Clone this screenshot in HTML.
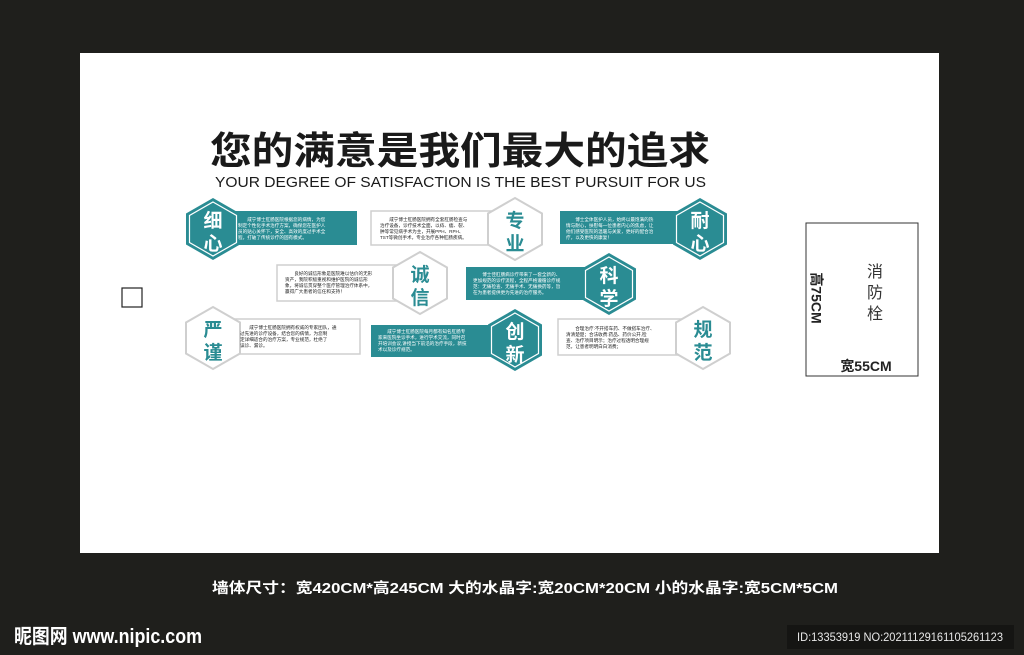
<!DOCTYPE html>
<html><head><meta charset="utf-8"><style>
html,body{margin:0;padding:0;background:#1f1f1c;}
svg{display:block}
text{font-family:"Liberation Sans","Noto Sans CJK SC",sans-serif;}
.cj{font-family:"Noto Sans CJK SC","WenQuanYi Zen Hei",sans-serif;}
</style></head><body>
<svg width="1024" height="655" viewBox="0 0 1024 655" xmlns="http://www.w3.org/2000/svg">
<rect x="0" y="0" width="1024" height="655" fill="#1f1f1c"/>
<rect x="80" y="53" width="859" height="500" fill="#ffffff"/>

<text class="cj" x="210" y="164" font-size="38" font-weight="bold" fill="#1a1a1a" textLength="500" lengthAdjust="spacingAndGlyphs">您的满意是我们最大的追求</text>
<text x="215" y="187" font-size="14.5" fill="#1a1a1a" textLength="491" lengthAdjust="spacingAndGlyphs">YOUR DEGREE OF SATISFACTION IS THE BEST PURSUIT FOR US</text>

<!-- bars -->
<g>
<rect x="230" y="211" width="127" height="34" fill="#2a8c93"/>
<rect x="371" y="211" width="129" height="34" fill="#fff" stroke="#cfcfcf" stroke-width="1.5"/>
<rect x="560" y="211" width="140" height="33" fill="#2a8c93"/>
<rect x="277" y="265" width="128" height="36" fill="#fff" stroke="#cfcfcf" stroke-width="1.5"/>
<rect x="466" y="267" width="134" height="33" fill="#2a8c93"/>
<rect x="232" y="319" width="128" height="35" fill="#fff" stroke="#cfcfcf" stroke-width="1.5"/>
<rect x="371" y="325" width="129" height="32" fill="#2a8c93"/>
<rect x="558" y="319" width="132" height="36" fill="#fff" stroke="#cfcfcf" stroke-width="1.5"/>
</g>

<!-- hexes -->
<g>
<!-- teal: 细心 -->
<polygon points="213,198 240,213.5 240,244.5 213,260 186,244.5 186,213.5" fill="#2a8c93"/>
<polygon points="213,202 236.5,215.5 236.5,242.5 213,256 189.5,242.5 189.5,215.5" fill="none" stroke="#fff" stroke-width="1.2"/>
<!-- white: 专业 -->
<polygon points="515,198 542,213.5 542,244.5 515,260 488,244.5 488,213.5" fill="#fff" stroke="#cfcfcf" stroke-width="2"/>
<!-- teal: 耐心 -->
<polygon points="700,198 727,213.5 727,244.5 700,260 673,244.5 673,213.5" fill="#2a8c93"/>
<polygon points="700,202 723.5,215.5 723.5,242.5 700,256 676.5,242.5 676.5,215.5" fill="none" stroke="#fff" stroke-width="1.2"/>
<!-- white: 诚信 -->
<polygon points="420,252 447,267.5 447,298.5 420,314 393,298.5 393,267.5" fill="#fff" stroke="#cfcfcf" stroke-width="2"/>
<!-- teal: 科学 -->
<polygon points="609,253 636,268.5 636,299.5 609,315 582,299.5 582,268.5" fill="#2a8c93"/>
<polygon points="609,257 632.5,270.5 632.5,297.5 609,311 585.5,297.5 585.5,270.5" fill="none" stroke="#fff" stroke-width="1.2"/>
<!-- white: 严谨 -->
<polygon points="213,307 240,322.5 240,353.5 213,369 186,353.5 186,322.5" fill="#fff" stroke="#cfcfcf" stroke-width="2"/>
<!-- teal: 创新 -->
<polygon points="515,309 542,324.5 542,355.5 515,371 488,355.5 488,324.5" fill="#2a8c93"/>
<polygon points="515,313 538.5,326.5 538.5,353.5 515,367 491.5,353.5 491.5,326.5" fill="none" stroke="#fff" stroke-width="1.2"/>
<!-- white: 规范 -->
<polygon points="703,307 730,322.5 730,353.5 703,369 676,353.5 676,322.5" fill="#fff" stroke="#cfcfcf" stroke-width="2"/>
</g>

<g class="cj" font-size="19" font-weight="bold" text-anchor="middle">
<text x="213" y="227" fill="#fff">细</text><text x="213" y="250" fill="#fff">心</text>
<text x="515" y="227" fill="#2a8c93">专</text><text x="515" y="250" fill="#2a8c93">业</text>
<text x="700" y="227" fill="#fff">耐</text><text x="700" y="250" fill="#fff">心</text>
<text x="420" y="281" fill="#2a8c93">诚</text><text x="420" y="304" fill="#2a8c93">信</text>
<text x="609" y="282" fill="#fff">科</text><text x="609" y="305" fill="#fff">学</text>
<text x="213" y="336" fill="#2a8c93">严</text><text x="213" y="359" fill="#2a8c93">谨</text>
<text x="515" y="338" fill="#fff">创</text><text x="515" y="361" fill="#fff">新</text>
<text x="703" y="336" fill="#2a8c93">规</text><text x="703" y="359" fill="#2a8c93">范</text>
</g>

<g class="cj" font-size="4.6">
<text fill="#fff"><tspan x="238" y="221">　　咸宁博士肛肠医院根据您的病情，为您</tspan><tspan x="238" y="227">制定个性化手术治疗方案，确保您在医护人</tspan><tspan x="238" y="233">员的贴心关怀下，安全、高效的度过手术全</tspan><tspan x="238" y="239">程，打破了传统诊疗的固有模式。</tspan></text>
<text fill="#222"><tspan x="380" y="221">　　咸宁博士肛肠医院拥有全套肛肠检查与</tspan><tspan x="380" y="227">治疗设备，诊疗技术全面，以痔、瘘、裂、</tspan><tspan x="380" y="233">肿等常见病手术为主，开展PPH、RPH、</tspan><tspan x="380" y="239">TST等微创手术，专业治疗各种肛肠疾病。</tspan></text>
<text fill="#fff"><tspan x="566" y="221">　　博士全体医护人员，始终以最饱满的热</tspan><tspan x="566" y="227">情与耐心，扶慰每一位患者内心的焦虑，让</tspan><tspan x="566" y="233">他们感受医院的温暖与关爱，更好的配合治</tspan><tspan x="566" y="239">疗，以及更快的康复！</tspan></text>
<text fill="#222"><tspan x="285" y="275">　　良好的诚信形象是医院难以估价的无形</tspan><tspan x="285" y="281">资产，我院积极重视和维护医院的诚信形</tspan><tspan x="285" y="287">象，将诚信贯穿整个医疗管理治疗体系中，</tspan><tspan x="285" y="293">赢得广大患者的信任和支持！</tspan></text>
<text fill="#fff"><tspan x="473" y="276">　　博士佳肛肠病诊疗带来了一套全新的、</tspan><tspan x="473" y="282">更加规范的诊疗流程，全程严格遵循诊疗规</tspan><tspan x="473" y="288">范：无痛检查、无痛手术、无痛换药等，旨</tspan><tspan x="473" y="294">在为患者提供更为先进的治疗服务。</tspan></text>
<text fill="#222"><tspan x="240" y="329">　　咸宁博士肛肠医院拥有权威的专家团队，通</tspan><tspan x="240" y="335">过先进的诊疗设备，结合您的病情，为您制</tspan><tspan x="240" y="341">定详细适合的治疗方案，专业规范，杜绝了</tspan><tspan x="240" y="347">误诊、漏诊。</tspan></text>
<text fill="#fff"><tspan x="378" y="333">　　咸宁博士肛肠医院每月都有知名肛肠专</tspan><tspan x="378" y="339">家来医院坐诊手术，进行学术交流，同时召</tspan><tspan x="378" y="345">开培训会议,讲授当下前沿的治疗手段，新技</tspan><tspan x="378" y="351">术以及诊疗规范。</tspan></text>
<text fill="#222"><tspan x="566" y="330">　　合理治疗:不开搭车药、不做搭车治疗、</tspan><tspan x="566" y="336">清清楚楚；合法收费:药品、药价公开,检</tspan><tspan x="566" y="342">查、治疗项目明示；治疗过程透明合理规</tspan><tspan x="566" y="348">范，让患者明明白白消费；</tspan></text>
</g>

<rect x="122" y="288" width="20" height="19" fill="none" stroke="#222" stroke-width="1.2"/>

<rect x="806" y="223" width="112" height="153" fill="#fff" stroke="#333" stroke-width="1"/>
<g class="cj" font-size="16" fill="#333" text-anchor="middle">
<text x="875" y="277">消</text><text x="875" y="298">防</text><text x="875" y="319">栓</text>
</g>
<text x="815" y="298" font-size="14" font-weight="bold" fill="#222" transform="rotate(90 815 298)" text-anchor="middle" dominant-baseline="middle">高75CM</text>
<text x="866" y="371" font-size="14" font-weight="bold" fill="#222" text-anchor="middle">宽55CM</text>

<text x="212" y="593" font-size="14.5" font-weight="bold" fill="#fff" textLength="626" lengthAdjust="spacingAndGlyphs">墙体尺寸：宽420CM*高245CM   大的水晶字:宽20CM*20CM  小的水晶字:宽5CM*5CM</text>

<text x="14" y="643" font-size="20" font-weight="bold" fill="#fff" textLength="188" lengthAdjust="spacingAndGlyphs">昵图网 www.nipic.com</text>
<rect x="787" y="625" width="227" height="24" fill="#151513"/>
<text x="797" y="641" font-size="11.5" fill="#e8e8e8" textLength="206" lengthAdjust="spacingAndGlyphs">ID:13353919 NO:20211129161105261123</text>
</svg>
</body></html>
